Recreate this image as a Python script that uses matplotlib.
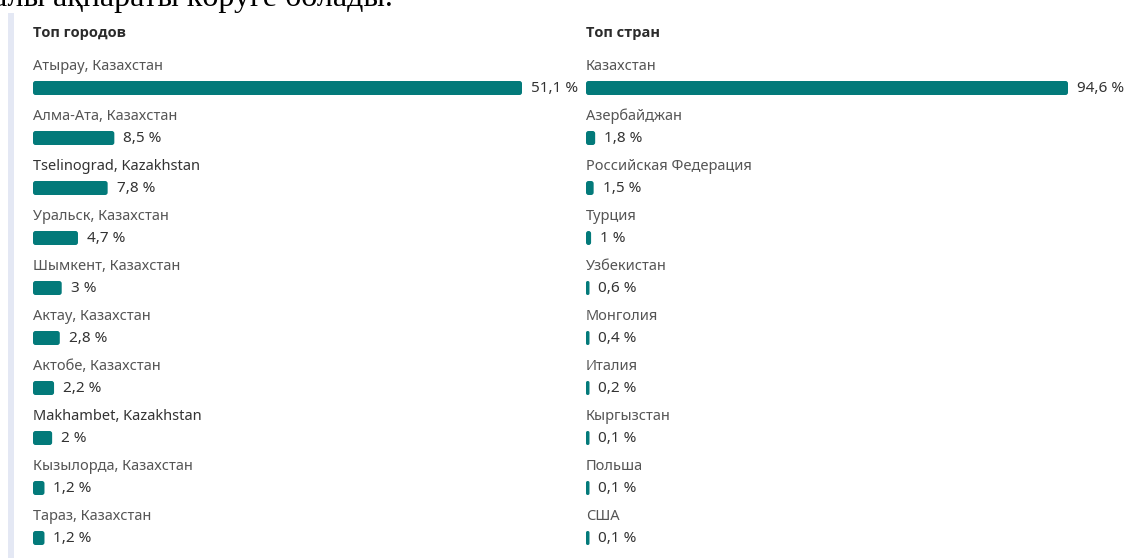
import matplotlib.pyplot as plt
from matplotlib.patches import FancyBboxPatch, Rectangle

# данные
cities = ['Атырау, Казахстан', 'Алма-Ата, Казахстан', 'Tselinograd, Kazakhstan',
          'Уральск, Казахстан', 'Шымкент, Казахстан', 'Актау, Казахстан',
          'Актобе, Казахстан', 'Makhambet, Kazakhstan', 'Кызылорда, Казахстан',
          'Тараз, Казахстан']
city_values = [51.1, 8.5, 7.8, 4.7, 3.0, 2.8, 2.2, 2.0, 1.2, 1.2]

countries = ['Казахстан', 'Азербайджан', 'Российская Федерация', 'Турция',
             'Узбекистан', 'Монголия', 'Италия', 'Кыргызстан', 'Польша', 'США']
country_values = [94.6, 1.8, 1.5, 1.0, 0.6, 0.4, 0.2, 0.1, 0.1, 0.1]

BAR_COLOR = '#037a7a'
FONT = 'Noto Sans'


def fmt(v):
    s = f'{v:.1f}'.replace('.', ',')
    if s.endswith(',0'):
        s = s[:-2]
    return s + ' %'


def draw_panel(ax, x0, title, labels, values, width):
    ax.text(x0, 33, title, fontsize=10.5, fontweight='bold', color='#2b2b2b',
            family='Open Sans', va='center', ha='left')
    vmax = max(values)
    for i, (lab, v) in enumerate(zip(labels, values)):
        y_lab = 66 + i * 50
        y_bar = 88 + i * 50
        latin = lab[0].isascii()
        ax.text(x0, y_lab, lab, fontsize=10.5, color='#333333' if latin else '#555555',
                family=FONT, va='center', ha='left')
        w = max(v / vmax * width, 3.5)
        h = 14
        r = min(2.5, w / 2 - 0.1)
        ax.add_patch(FancyBboxPatch((x0, y_bar - h / 2), w, h,
                                    boxstyle=f'round,pad=0,rounding_size={r}',
                                    facecolor=BAR_COLOR, edgecolor='none'))
        ax.text(x0 + w + 9, y_bar, fmt(v), fontsize=11, color='#333333',
                family=FONT, va='center', ha='left')


fig = plt.figure(figsize=(11.46, 5.58), dpi=100)
ax = fig.add_axes([0, 0, 1, 1])
ax.set_xlim(0, 1146)
ax.set_ylim(558, 0)
ax.axis('off')

# обрезанная строка текста сверху
ax.text(-7, 6, 'алы ақпараты көруге болады.', fontsize=23, family='Liberation Serif',
        color='black', va='baseline', ha='left')

ax.add_patch(Rectangle((8, 13), 6, 560, facecolor='#e4e8f4', edgecolor='none'))

draw_panel(ax, 33, 'Топ городов', cities, city_values, 489)
draw_panel(ax, 586, 'Топ стран', countries, country_values, 482)

fig.savefig('out.png', dpi=100)
